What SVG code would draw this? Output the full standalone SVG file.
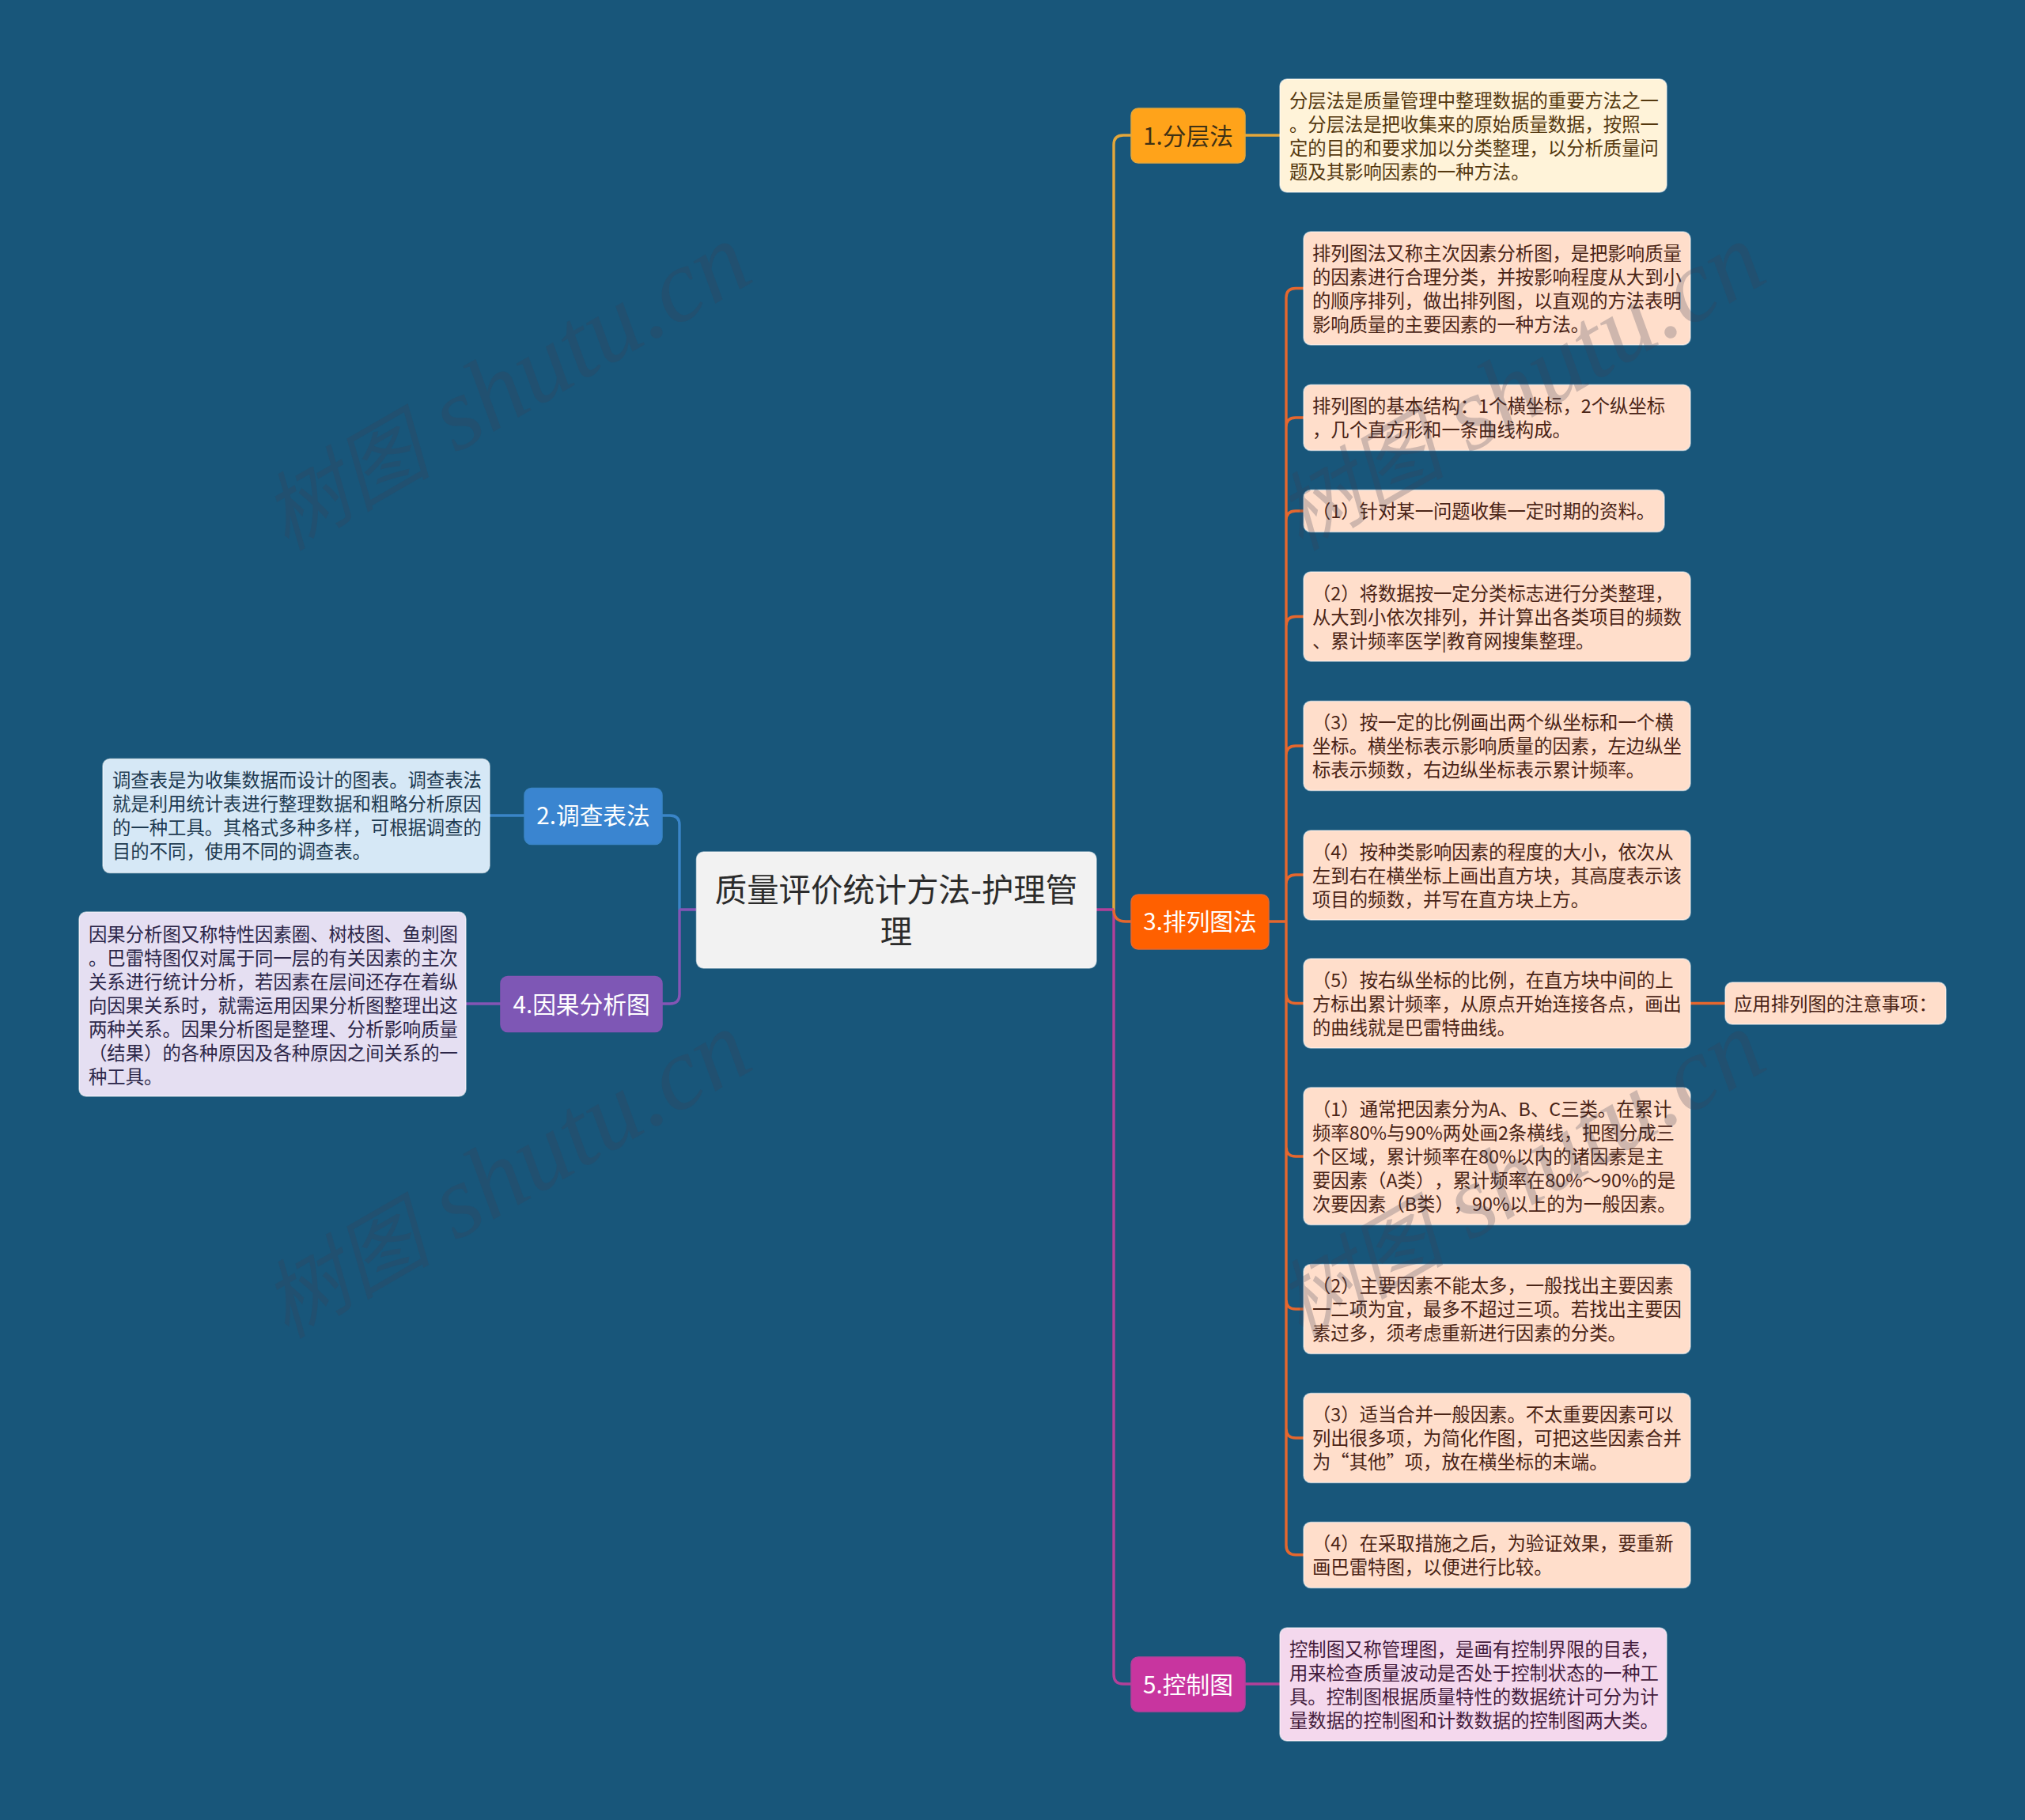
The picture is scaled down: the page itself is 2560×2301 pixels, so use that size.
<svg xmlns="http://www.w3.org/2000/svg" width="2560" height="2301" viewBox="0 0 2560 2301">
<style>
text{font-family:"Noto Sans CJK SC","Noto Sans",sans-serif;text-spacing-trim:space-all}
.d{font-size:23.35px;transform:translateY(.5px)}
.n{font-size:29.7px;text-anchor:middle;transform:translateY(.5px)}
.r{font-size:40.4px;text-anchor:middle;fill:#2b2b2b;transform:translateY(.5px)}
.w{fill:#fff}
.b{stroke:#fff;stroke-opacity:.55;stroke-width:1.5}
.g{fill:#fff3d9}.gt{fill:#54380f}
.p{fill:#ffdecb}.pt{fill:#4a2416}
.u{fill:#d6e8f6}.ut{fill:#1e3a50}
.v{fill:#e5dff2}.vt{fill:#2c2648}
.m{fill:#f4d8ed}.mt{fill:#431b3b}
#connectors path{fill:none;stroke-width:3.4}
.wm{font-family:"Liberation Serif","Noto Sans CJK SC",serif;font-style:italic;font-size:131px;fill:#3a3e55;fill-opacity:.25}
.wm .c{font-size:107px}
</style>
<rect width="2560" height="2301" fill="#18567a"/>
<g id="connectors">
<path stroke="#e3a73b" d="M1408 1150V183Q1408 171 1420 171H1430M1574 171H1618"/>
<path stroke="#3a85c8" d="M859 1150V1043Q859 1031 847 1031H837M663 1031H619"/>
<path stroke="#8455b5" d="M859 1150V1257Q859 1269 847 1269H837M633 1269H589M880 1150H859"/>
<path stroke="#b2409a" d="M1408 1150V2117Q1408 2129 1420 2129H1430M1574 2129H1618M1386 1150H1408"/>
<path stroke="#e5672e" d="M1408 1150Q1408 1165 1423 1165H1430M1604 1165H1626M1648 364.500H1638Q1626 364.500 1626 376.500V1953.700Q1626 1965.700 1638 1965.700H1648M1648 528H1638Q1626 528 1626 540M1648 646H1638Q1626 646 1626 658M1648 779.500H1638Q1626 779.500 1626 791.500M1648 943H1638Q1626 943 1626 955M1648 1106H1638Q1626 1106 1626 1118M1648 1268.500H1638Q1626 1268.500 1626 1256.500M1648 1462H1638Q1626 1462 1626 1450M1648 1655H1638Q1626 1655 1626 1643M1648 1818H1638Q1626 1818 1626 1806M2137 1268.500H2181"/>
</g>
<g id="root"><rect x="880.500" y="1077" width="505.500" height="147" rx="9" fill="#f2f2f2" class="b"/>
<text class="r" x="1133" y="1139">质量评价统计方法-护理管</text><text class="r" x="1133" y="1192">理</text></g>
<g id="n1"><rect x="1430" y="137" width="144" height="69" rx="9" fill="#ffa31a" stroke="#e3a73b" stroke-width="1.500"/><text class="n" x="1502" y="182" fill="#3f3115">1.分层法</text></g>
<g id="n1d"><rect class="g b" x="1618" y="100" width="489" height="143" rx="9"/>
<text class="d gt" x="1630"><tspan x="1630" y="135">分层法是质量管理中整理数据的重要方法之一</tspan><tspan x="1630" y="165">。分层法是把收集来的原始质量数据，按照一</tspan><tspan x="1630" y="195">定的目的和要求加以分类整理，以分析质量问</tspan><tspan x="1630" y="225">题及其影响因素的一种方法。</tspan></text></g>
<g id="n2"><rect x="663" y="996.500" width="174" height="71" rx="9" fill="#3a85d0" stroke="#3a85c8" stroke-width="1.500"/><text class="n w" x="750" y="1041">2.调查表法</text></g>
<g id="n2d"><rect class="u b" x="130" y="959.500" width="489" height="144" rx="9"/>
<text class="d ut"><tspan x="142" y="994">调查表是为收集数据而设计的图表。调查表法</tspan><tspan x="142" y="1024">就是利用统计表进行整理数据和粗略分析原因</tspan><tspan x="142" y="1054">的一种工具。其格式多种多样，可根据调查的</tspan><tspan x="142" y="1084">目的不同，使用不同的调查表。</tspan></text></g>
<g id="n4"><rect x="633" y="1234.500" width="204" height="70" rx="9" fill="#7e57b5" stroke="#8455b5" stroke-width="1.500"/><text class="n w" x="735" y="1280">4.因果分析图</text></g>
<g id="n4d"><rect class="v b" x="100" y="1153" width="489" height="233" rx="9"/>
<text class="d vt"><tspan x="112" y="1189">因果分析图又称特性因素圈、树枝图、鱼刺图</tspan><tspan x="112" y="1219">。巴雷特图仅对属于同一层的有关因素的主次</tspan><tspan x="112" y="1249">关系进行统计分析，若因素在层间还存在着纵</tspan><tspan x="112" y="1279">向因果关系时，就需运用因果分析图整理出这</tspan><tspan x="112" y="1309">两种关系。因果分析图是整理、分析影响质量</tspan><tspan x="112" y="1339">（结果）的各种原因及各种原因之间关系的一</tspan><tspan x="112" y="1369">种工具。</tspan></text></g>
<g id="n3"><rect x="1430" y="1131" width="174" height="69" rx="9" fill="#ff6000" stroke="#e5672e" stroke-width="1.500"/><text class="n w" x="1517" y="1175">3.排列图法</text></g>
<g id="c1"><rect class="p b" x="1648" y="293" width="489" height="143" rx="9"/><text class="d pt"><tspan x="1659" y="328">排列图法又称主次因素分析图，是把影响质量</tspan><tspan x="1659" y="358">的因素进行合理分类，并按影响程度从大到小</tspan><tspan x="1659" y="388">的顺序排列，做出排列图，以直观的方法表明</tspan><tspan x="1659" y="418">影响质量的主要因素的一种方法。</tspan></text></g>
<g id="c2"><rect class="p b" x="1648" y="486.500" width="489" height="83" rx="9"/><text class="d pt"><tspan x="1659" y="521">排列图的基本结构：1个横坐标，2个纵坐标</tspan><tspan x="1659" y="551">，几个直方形和一条曲线构成。</tspan></text></g>
<g id="c3"><rect class="p b" x="1648" y="619.500" width="456" height="53" rx="9"/><text class="d pt" x="1659" y="654">（1）针对某一问题收集一定时期的资料。</text></g>
<g id="c4"><rect class="p b" x="1648" y="723" width="489" height="113" rx="9"/><text class="d pt"><tspan x="1659" y="758">（2）将数据按一定分类标志进行分类整理，</tspan><tspan x="1659" y="788">从大到小依次排列，并计算出各类项目的频数</tspan><tspan x="1659" y="818">、累计频率医学|教育网搜集整理。</tspan></text></g>
<g id="c5"><rect class="p b" x="1648" y="886.500" width="489" height="113" rx="9"/><text class="d pt"><tspan x="1659" y="921">（3）按一定的比例画出两个纵坐标和一个横</tspan><tspan x="1659" y="951">坐标。横坐标表示影响质量的因素，左边纵坐</tspan><tspan x="1659" y="981">标表示频数，右边纵坐标表示累计频率。</tspan></text></g>
<g id="c6"><rect class="p b" x="1648" y="1050" width="489" height="113" rx="9"/><text class="d pt"><tspan x="1659" y="1085">（4）按种类影响因素的程度的大小，依次从</tspan><tspan x="1659" y="1115">左到右在横坐标上画出直方块，其高度表示该</tspan><tspan x="1659" y="1145">项目的频数，并写在直方块上方。</tspan></text></g>
<g id="c7"><rect class="p b" x="1648" y="1212" width="489" height="113" rx="9"/><text class="d pt"><tspan x="1659" y="1247">（5）按右纵坐标的比例，在直方块中间的上</tspan><tspan x="1659" y="1277">方标出累计频率，从原点开始连接各点，画出</tspan><tspan x="1659" y="1307">的曲线就是巴雷特曲线。</tspan></text></g>
<g id="c7a"><rect class="p b" x="2181" y="1242" width="279" height="53" rx="9"/><text class="d pt" x="2192" y="1277">应用排列图的注意事项：</text></g>
<g id="c8"><rect class="p b" x="1648" y="1375" width="489" height="173.500" rx="9"/><text class="d pt"><tspan x="1659" y="1410">（1）通常把因素分为A、B、C三类。在累计</tspan><tspan x="1659" y="1440">频率80%与90%两处画2条横线，把图分成三</tspan><tspan x="1659" y="1470">个区域，累计频率在80%以内的诸因素是主</tspan><tspan x="1659" y="1500">要因素（A类），累计频率在80%～90%的是</tspan><tspan x="1659" y="1530">次要因素（B类），90%以上的为一般因素。</tspan></text></g>
<g id="c9"><rect class="p b" x="1648" y="1598.500" width="489" height="113" rx="9"/><text class="d pt"><tspan x="1659" y="1633">（2）主要因素不能太多，一般找出主要因素</tspan><tspan x="1659" y="1663">一二项为宜，最多不超过三项。若找出主要因</tspan><tspan x="1659" y="1693">素过多，须考虑重新进行因素的分类。</tspan></text></g>
<g id="c10"><rect class="p b" x="1648" y="1761.500" width="489" height="113" rx="9"/><text class="d pt"><tspan x="1659" y="1796">（3）适当合并一般因素。不太重要因素可以</tspan><tspan x="1659" y="1826">列出很多项，为简化作图，可把这些因素合并</tspan><tspan x="1659" y="1856">为“其他”项，放在横坐标的末端。</tspan></text></g>
<g id="c11"><rect class="p b" x="1648" y="1924.500" width="489" height="83" rx="9"/><text class="d pt"><tspan x="1659" y="1959">（4）在采取措施之后，为验证效果，要重新</tspan><tspan x="1659" y="1989">画巴雷特图，以便进行比较。</tspan></text></g>
<g id="n5"><rect x="1430" y="2095" width="144" height="69" rx="9" fill="#c8359f" stroke="#b2409a" stroke-width="1.500"/><text class="n w" x="1502" y="2140">5.控制图</text></g>
<g id="n5d"><rect class="m b" x="1618" y="2058" width="489" height="143" rx="9"/><text class="d mt"><tspan x="1630" y="2093">控制图又称管理图，是画有控制界限的目表，</tspan><tspan x="1630" y="2123">用来检查质量波动是否处于控制状态的一种工</tspan><tspan x="1630" y="2153">具。控制图根据质量特性的数据统计可分为计</tspan><tspan x="1630" y="2183">量数据的控制图和计数数据的控制图两大类。</tspan></text></g>
<g id="watermarks">
<text class="wm" transform="translate(362 697) rotate(-30)"><tspan class="c">树图</tspan> shutu.cn</text>
<text class="wm" transform="translate(1644 697) rotate(-30)"><tspan class="c">树图</tspan> shutu.cn</text>
<text class="wm" transform="translate(362 1693) rotate(-30)"><tspan class="c">树图</tspan> shutu.cn</text>
<text class="wm" transform="translate(1644 1693) rotate(-30)"><tspan class="c">树图</tspan> shutu.cn</text>
</g>
</svg>
